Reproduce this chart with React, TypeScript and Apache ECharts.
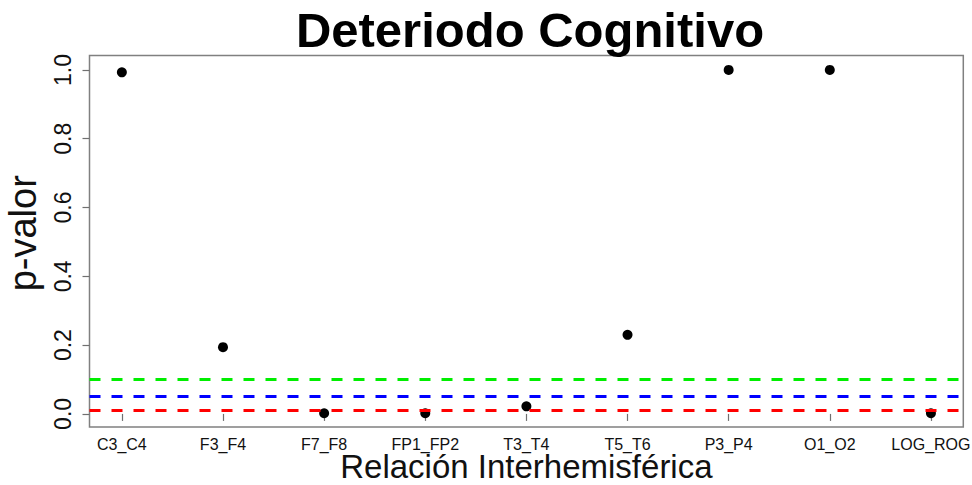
import React, { useEffect, useRef } from "react";
import * as echarts from "echarts";

const categories = ["C3_C4", "F3_F4", "F7_F8", "FP1_FP2", "T3_T4", "T5_T6", "P3_P4", "O1_O2", "LOG_ROG"];
const pValues = [0.993, 0.194, 0.002, 0.002, 0.022, 0.23, 1.0, 1.0, 0.002];
const yTicks = [0, 0.2, 0.4, 0.6, 0.8, 1.0];
const thresholds = [0.1, 0.05, 0.01];
const thresholdColors = ["#00ee00", "#0000ff", "#ff0000"];

const FONT = "'Liberation Sans', Arial, sans-serif";

export default function App() {
  const ref = useRef<HTMLDivElement>(null);
  useEffect(() => {
    if (!ref.current) return;
    const chart = echarts.init(ref.current, null, { renderer: "svg" });
    const xPositions = categories.map((_, i) => i + 1);
    chart.setOption({
      animation: false,
      backgroundColor: "#ffffff",
      textStyle: { fontFamily: FONT },
      graphic: [
        {
          type: "text",
          x: 530,
          y: 30,
          style: {
            text: "Deteriodo Cognitivo",
            font: `bold 49px ${FONT}`,
            fill: "#000",
            align: "center",
            verticalAlign: "middle",
          },
        },
      ],
      grid: {
        left: 89.5,
        right: 8.7,
        top: 55.5,
        bottom: 58,
        show: true,
        borderColor: "#808080",
        borderWidth: 1.5,
        backgroundColor: "transparent",
        containLabel: false,
        outerBoundsMode: "none",
      },
      xAxis: {
        type: "value",
        min: 0.68,
        max: 9.32,
        name: "Relación Interhemisférica",
        nameLocation: "middle",
        nameGap: 27.5,
        nameMoveOverlap: false,
        nameTextStyle: { fontSize: 33, color: "#111", fontFamily: FONT, lineHeight: 24 },
        splitLine: { show: false },
        axisLine: { show: false },
        axisTick: {
          show: true,
          length: 7,
          customValues: xPositions,
          lineStyle: { color: "#707070", width: 1.2 },
        },
        axisLabel: {
          customValues: xPositions,
          formatter: (v: number) => categories[Math.round(v) - 1] ?? "",
          fontSize: 16,
          lineHeight: 14,
          color: "#111",
          margin: 10,
          fontFamily: FONT,
        },
      },
      yAxis: {
        type: "value",
        min: -0.038,
        max: 1.042,
        name: "p-valor",
        nameLocation: "middle",
        nameGap: 48,
        nameMoveOverlap: false,
        nameTextStyle: {
          fontSize: 38,
          color: "#111",
          fontFamily: FONT,
          padding: [0, 0, 0, 16],
        },
        splitLine: { show: false },
        axisLine: { show: false },
        axisTick: {
          show: true,
          length: 7,
          customValues: yTicks,
          lineStyle: { color: "#707070", width: 1.2 },
        },
        axisLabel: {
          customValues: yTicks,
          formatter: (v: number) => v.toFixed(1),
          rotate: 90,
          fontSize: 23,
          color: "#111",
          margin: 15,
          fontFamily: FONT,
        },
      },
      series: [
        {
          type: "line",
          data: [],
          z: 1,
          silent: true,
          markLine: {
            silent: true,
            symbol: ["none", "none"],
            label: { show: false },
            emphasis: { disabled: true },
            data: thresholds.map((t, i) => ({
              yAxis: t,
              lineStyle: { color: thresholdColors[i], width: 3, type: [11, 11] },
            })),
          },
        },
        {
          type: "scatter",
          z: 3,
          symbol: "circle",
          symbolSize: 10,
          itemStyle: { color: "#000", opacity: 1 },
          data: pValues.map((v, i) => [xPositions[i], v]),
        },
      ],
    });
    return () => chart.dispose();
  }, []);
  return (
    <div
      ref={ref}
      style={{ position: "fixed", left: 0, top: 0, width: 972, height: 485 }}
    />
  );
}
